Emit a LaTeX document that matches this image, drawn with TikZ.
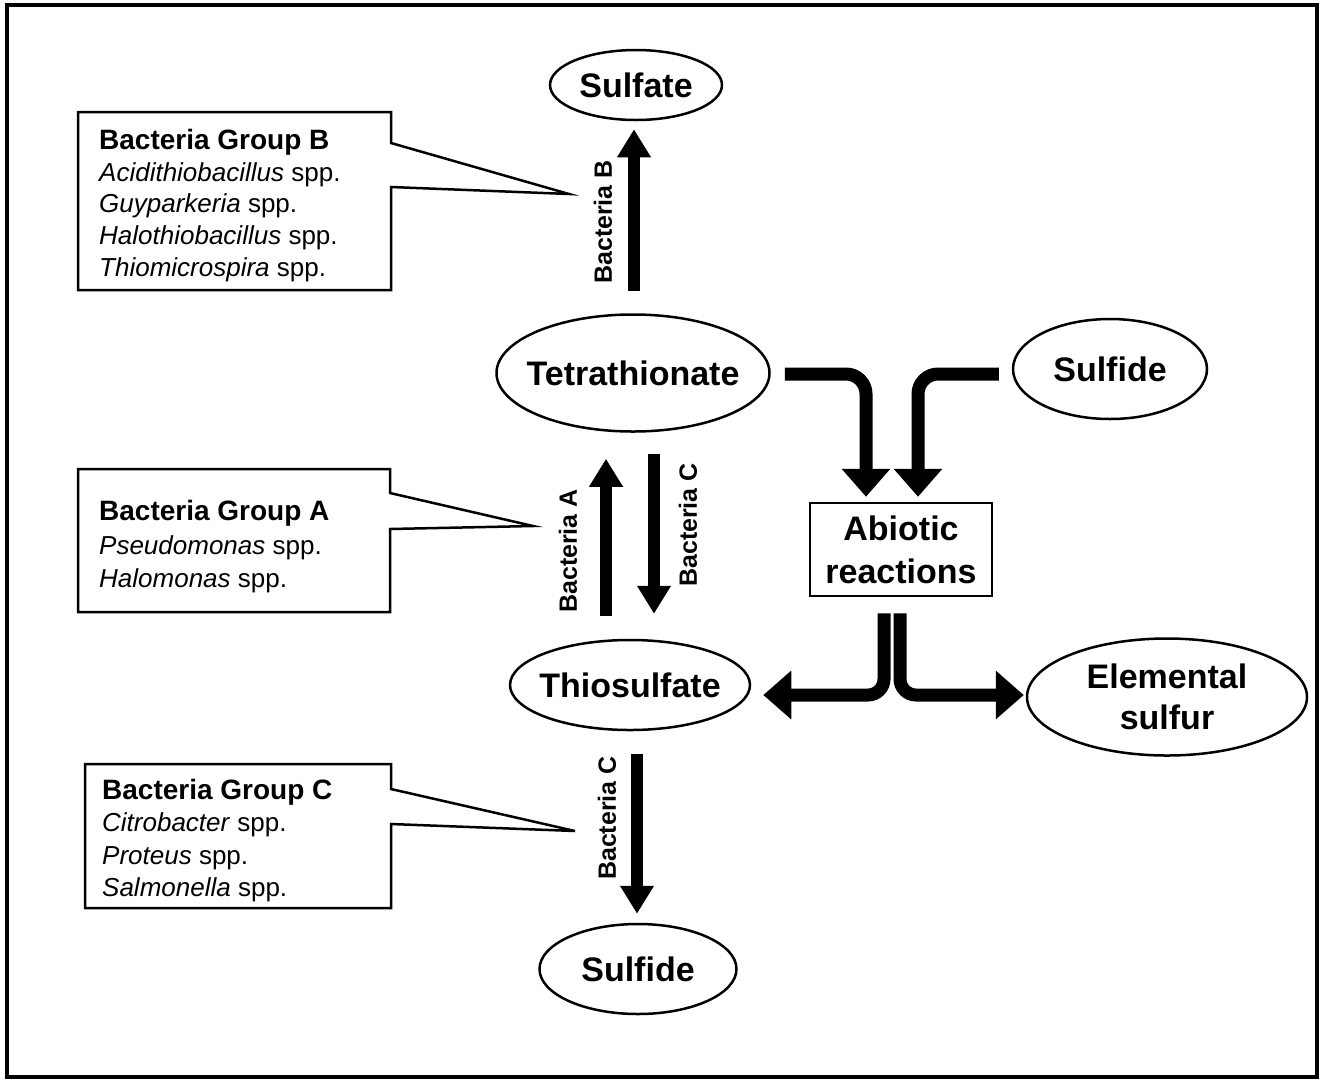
\documentclass[tikz,border=0pt]{standalone}
\usepackage{fontspec}
\setmainfont{Liberation Sans}
\usetikzlibrary{arrows.meta,calc,shapes.geometric}
\begin{document}
\begin{tikzpicture}[x=1pt,y=-1pt,
  oval/.style={ellipse, draw, line width=2.5pt, inner xsep=-20pt, inner ysep=0pt, align=center,
    font=\bfseries\fontsize{34}{41}\selectfont},
  boxnode/.style={rectangle, draw, line width=2.5pt, inner sep=0pt, align=center,
    font=\bfseries\fontsize{34}{43}\selectfont},
  arr/.style={line width=12pt, -{Triangle[length=28pt 0 0,width=32pt 0 0]}},
  barr/.style={line width=13pt, rounded corners=20pt, -{Triangle[length=28pt 0 0,width=47pt 0 0]}},
  blabel/.style={rotate=90, inner sep=0pt, font=\bfseries\fontsize{25}{28}\selectfont},
  callout/.style={line width=2.5pt, line join=miter},
  ctext/.style={anchor=north west, inner sep=0pt, align=left},
]
\useasboundingbox (0,0) rectangle (1322,1080);
\draw[line width=4pt] (7,5) rectangle (1317,1077);

% main nodes
\node[oval, minimum width=172pt, minimum height=70pt] (sulfate) at (636,85) {Sulfate};
\node[oval, minimum width=273pt, minimum height=117pt] (tetra) at (633,373) {Tetrathionate};
\node[oval, minimum width=194pt, minimum height=100pt] (sulf2) at (1110,369) {Sulfide};
\node[boxnode, minimum width=182pt, minimum height=93pt] (abiotic) at (901,549.5) {Abiotic\\reactions};
\node[oval, minimum width=240pt, minimum height=90pt] (thio) at (630,685) {Thiosulfate};
\node[oval, minimum width=280pt, minimum height=117pt] (elem) at (1167,697) {Elemental\\sulfur};
\node[oval, minimum width=197pt, minimum height=90pt] (sulf1) at (638,969) {Sulfide};

% vertical arrows
\draw[arr, shorten <=22.5pt, shorten >=8pt] ([xshift=1pt]tetra.north) -- ([xshift=-2pt]sulfate.south);
\draw[arr, shorten <=23pt, shorten >=26pt] ([xshift=-24pt]thio.north) -- ([xshift=-27pt]tetra.south);
\draw[arr, shorten <=21pt, shorten >=25pt] ([xshift=21pt]tetra.south) -- ([xshift=24pt]thio.north);
\draw[arr, shorten <=23pt, shorten >=9pt] ([xshift=7pt]thio.south) -- ([xshift=-1pt]sulf1.north);

% bent arrows into abiotic box
\draw[barr, shorten >=5pt] ([xshift=14pt,yshift=-1pt]tetra.east) -| ([xshift=-35pt]abiotic.north);
\draw[barr, shorten >=5pt] ([xshift=-13pt,yshift=-5pt]sulf2.west) -| ([xshift=17pt]abiotic.north);

% bent arrows out of abiotic box
\draw[barr, rounded corners=16pt] ([xshift=-17pt,yshift=-16pt]abiotic.south) |- ([yshift=-10pt,xshift=12pt]thio.east);
\draw[barr, rounded corners=16pt] ([xshift=-1pt,yshift=-16pt]abiotic.south) |- ([yshift=2pt,xshift=-2pt]elem.west);

% arrow labels
\node[blabel] (lb) at (603,222) {Bacteria B};
\node[blabel] (la) at (568,551) {Bacteria A};
\node[blabel] (lc1) at (688,525) {Bacteria C};
\node[blabel] (lc2) at (607,818) {Bacteria C};

% callouts
\draw[callout] (78,112) -- (391,112) -- (391,143) -- (569,194) -- (391,187) -- (391,290) -- (78,290) -- cycle;
\node[ctext, font=\fontsize{26}{31.7}\selectfont] (gb) at (99,129) {{\bfseries\fontsize{28}{31.7}\selectfont Bacteria Group B}\\
  \textit{Acidithiobacillus} spp.\\
  \textit{Guyparkeria} spp.\\
  \textit{Halothiobacillus} spp.\\
  \textit{Thiomicrospira} spp.};

\draw[callout] (78,469) -- (390,469) -- (390,493) -- (533,526) -- (390,529) -- (390,612) -- (78,612) -- cycle;
\node[ctext, font=\fontsize{26}{33.5}\selectfont] (ga) at (99,500) {{\bfseries\fontsize{28}{33.5}\selectfont Bacteria Group A}\\
  \textit{Pseudomonas} spp.\\
  \textit{Halomonas} spp.};

\draw[callout] (85,764) -- (391,764) -- (391,789) -- (575,831) -- (391,824) -- (391,908) -- (85,908) -- cycle;
\node[ctext, font=\fontsize{26}{32.3}\selectfont] (gc) at (102,779) {{\bfseries\fontsize{28}{32.3}\selectfont Bacteria Group C}\\
  \textit{Citrobacter} spp.\\
  \textit{Proteus} spp.\\
  \textit{Salmonella} spp.};
\end{tikzpicture}
\end{document}
